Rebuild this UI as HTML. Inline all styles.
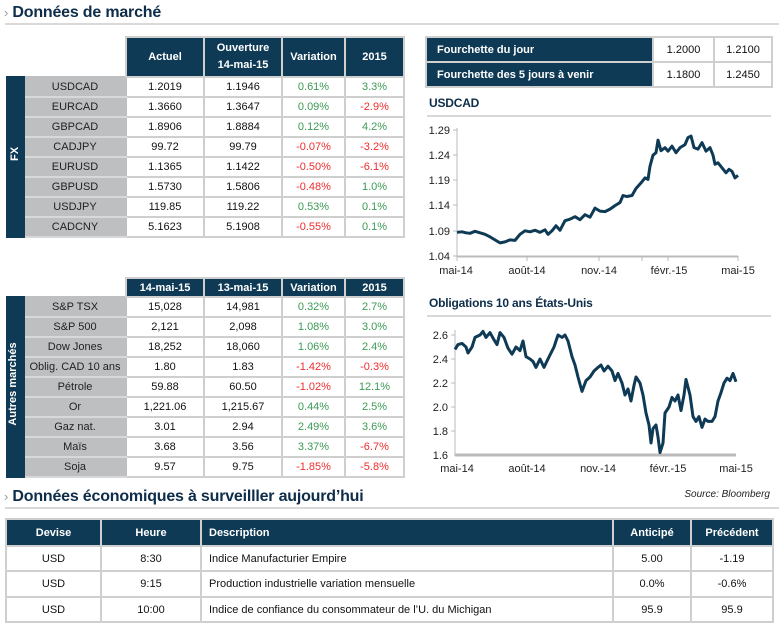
<!DOCTYPE html>
<html><head><meta charset="utf-8">
<style>
*{margin:0;padding:0;box-sizing:border-box}
body{width:779px;height:626px;background:#fff;position:relative;font-family:"Liberation Sans",sans-serif;color:#111;overflow:hidden}
.abs{position:absolute}
.title{font-size:16px;font-weight:bold;color:#0d2d4a;letter-spacing:-0.2px}
.chev{color:#9a9a9a;font-size:13px;font-weight:normal}
.rule{height:2px;background:#d9d9d9}
table{border-collapse:collapse;table-layout:fixed;position:absolute}
td{border:2px solid #cfcfcf;text-align:center;font-size:11px;white-space:nowrap;overflow:hidden;padding:0}
.h{background:#0e3a56;color:#fff;font-weight:bold;border-color:#cfcfcf}
.lab{background:#bebfc1;color:#222;border-color:#bebfc1;border-bottom-color:#d8d8d8}
.strip{background:#0e3a56;border-color:#0e3a56}
.g{color:#3c9a55}.r{color:#ef2d2d}
.blank{border:none;background:#fff}
.vt{color:#fff;font-weight:bold;font-size:11px;transform:rotate(-90deg);white-space:nowrap}
svg text{font-family:"Liberation Sans",sans-serif;font-size:11px;fill:#222}
</style></head><body>

<div class="abs title" style="left:4px;top:4px"><span class="chev">›</span> Données de marché</div>
<div class="abs rule" style="left:5px;top:23px;width:774px"></div>

<!-- FX table -->
<table style="left:6px;top:36px;width:397px">
<colgroup><col style="width:17px"><col style="width:102px"><col style="width:78px"><col style="width:78px"><col style="width:63px"><col style="width:59px"></colgroup>
<tr style="height:40px"><td class="blank"></td><td class="blank"></td><td class="h">Actuel</td><td class="h" style="line-height:17px">Ouverture<br>14-mai-15</td><td class="h">Variation</td><td class="h">2015</td></tr>
<tr style="height:20px"><td class="strip" rowspan="8"></td><td class="lab">USDCAD</td><td>1.2019</td><td>1.1946</td><td class="g">0.61%</td><td class="g">3.3%</td></tr>
<tr style="height:20px"><td class="lab">EURCAD</td><td>1.3660</td><td>1.3647</td><td class="g">0.09%</td><td class="r">-2.9%</td></tr>
<tr style="height:20px"><td class="lab">GBPCAD</td><td>1.8906</td><td>1.8884</td><td class="g">0.12%</td><td class="g">4.2%</td></tr>
<tr style="height:20px"><td class="lab">CADJPY</td><td>99.72</td><td>99.79</td><td class="r">-0.07%</td><td class="r">-3.2%</td></tr>
<tr style="height:20px"><td class="lab">EURUSD</td><td>1.1365</td><td>1.1422</td><td class="r">-0.50%</td><td class="r">-6.1%</td></tr>
<tr style="height:20px"><td class="lab">GBPUSD</td><td>1.5730</td><td>1.5806</td><td class="r">-0.48%</td><td class="g">1.0%</td></tr>
<tr style="height:20px"><td class="lab">USDJPY</td><td>119.85</td><td>119.22</td><td class="g">0.53%</td><td class="g">0.1%</td></tr>
<tr style="height:20px"><td class="lab">CADCNY</td><td>5.1623</td><td>5.1908</td><td class="r">-0.55%</td><td class="g">0.1%</td></tr>
</table>
<div class="abs vt" style="left:5px;top:148px;width:20px;text-align:center">FX</div>

<!-- Other markets -->
<table style="left:6px;top:277px;width:397px">
<colgroup><col style="width:17px"><col style="width:102px"><col style="width:78px"><col style="width:78px"><col style="width:63px"><col style="width:59px"></colgroup>
<tr style="height:19px"><td class="blank"></td><td class="blank"></td><td class="h">14-mai-15</td><td class="h">13-mai-15</td><td class="h">Variation</td><td class="h">2015</td></tr>
<tr style="height:20px"><td class="strip" rowspan="9"></td><td class="lab">S&amp;P TSX</td><td>15,028</td><td>14,981</td><td class="g">0.32%</td><td class="g">2.7%</td></tr>
<tr style="height:20px"><td class="lab">S&amp;P 500</td><td>2,121</td><td>2,098</td><td class="g">1.08%</td><td class="g">3.0%</td></tr>
<tr style="height:20px"><td class="lab">Dow Jones</td><td>18,252</td><td>18,060</td><td class="g">1.06%</td><td class="g">2.4%</td></tr>
<tr style="height:20px"><td class="lab">Oblig. CAD 10 ans</td><td>1.80</td><td>1.83</td><td class="r">-1.42%</td><td class="r">-0.3%</td></tr>
<tr style="height:20px"><td class="lab">Pétrole</td><td>59.88</td><td>60.50</td><td class="r">-1.02%</td><td class="g">12.1%</td></tr>
<tr style="height:20px"><td class="lab">Or</td><td>1,221.06</td><td>1,215.67</td><td class="g">0.44%</td><td class="g">2.5%</td></tr>
<tr style="height:20px"><td class="lab">Gaz nat.</td><td>3.01</td><td>2.94</td><td class="g">2.49%</td><td class="g">3.6%</td></tr>
<tr style="height:20px"><td class="lab">Maïs</td><td>3.68</td><td>3.56</td><td class="g">3.37%</td><td class="r">-6.7%</td></tr>
<tr style="height:20px"><td class="lab">Soja</td><td>9.57</td><td>9.75</td><td class="r">-1.85%</td><td class="r">-5.8%</td></tr>
</table>
<div class="abs vt" style="left:-42px;top:378px;width:110px;text-align:center">Autres marchés</div>

<!-- Range table -->
<table style="left:425px;top:36px;width:346px">
<colgroup><col style="width:227px"><col style="width:61px"><col style="width:58px"></colgroup>
<tr style="height:25px"><td class="h" style="text-align:left;padding-left:10px">Fourchette du jour</td><td>1.2000</td><td>1.2100</td></tr>
<tr style="height:25px"><td class="h" style="text-align:left;padding-left:10px">Fourchette des 5 jours à venir</td><td>1.1800</td><td>1.2450</td></tr>
</table>

<div class="abs title" style="left:429px;top:96px;font-size:12px">USDCAD</div>
<div class="abs rule" style="left:427px;top:115px;width:344px"></div>
<div class="abs title" style="left:429px;top:296px;font-size:12px">Obligations 10 ans États-Unis</div>
<div class="abs rule" style="left:427px;top:315px;width:344px"></div>

<svg class="abs" style="left:0;top:0" width="779" height="626">
<!-- USDCAD axes -->
<g stroke="#bbb" stroke-width="1">
<line x1="457" y1="128" x2="457" y2="257"/>
<line x1="457" y1="256.5" x2="738" y2="256.5" stroke-width="2"/>
<line x1="457" y1="256" x2="457" y2="261"/><line x1="527" y1="256" x2="527" y2="261"/><line x1="599" y1="256" x2="599" y2="261"/><line x1="642" y1="256" x2="642" y2="261"/><line x1="668" y1="256" x2="668" y2="261"/><line x1="738" y1="256" x2="738" y2="261"/>
<line x1="453" y1="130" x2="457" y2="130"/><line x1="453" y1="155" x2="457" y2="155"/><line x1="453" y1="180" x2="457" y2="180"/><line x1="453" y1="205" x2="457" y2="205"/><line x1="453" y1="231" x2="457" y2="231"/><line x1="453" y1="256" x2="457" y2="256"/>
</g>
<g text-anchor="end">
<text x="450" y="134">1.29</text><text x="450" y="159">1.24</text><text x="450" y="184">1.19</text><text x="450" y="209">1.14</text><text x="450" y="235">1.09</text><text x="450" y="260">1.04</text>
</g>
<g text-anchor="middle">
<text x="456" y="274">mai-14</text><text x="527" y="274">août-14</text><text x="599" y="274">nov.-14</text><text x="669" y="274">févr.-15</text><text x="738" y="274">mai-15</text>
</g>
<g transform="translate(0,780.16) scale(1,-504)">
<polyline fill="none" stroke="#0e3a56" stroke-width="3" vector-effect="non-scaling-stroke" stroke-linejoin="round" points="457,1.087 462,1.088 466,1.086 470,1.085 475,1.089 480,1.086 485,1.083 490,1.078 495,1.072 500,1.066 505,1.068 510,1.072 515,1.071 520,1.083 525,1.090 530,1.088 535,1.091 540,1.087 545,1.092 548,1.083 552,1.090 556,1.100 560,1.091 565,1.110 570,1.113 575,1.118 580,1.112 585,1.122 590,1.117 595,1.135 600,1.129 605,1.128 610,1.133 615,1.140 620,1.146 623,1.160 627,1.158 632,1.160 636,1.174 641,1.185 645,1.195 648,1.192 650,1.218 653,1.240 656,1.245 658,1.270 661,1.249 665,1.255 668,1.248 672,1.258 676,1.245 680,1.255 685,1.261 688,1.275 691,1.278 694,1.255 698,1.252 702,1.265 706,1.248 710,1.255 713,1.240 715,1.222 718,1.225 722,1.215 726,1.205 729,1.212 732,1.208 735,1.195 738,1.200"/>
</g>

<!-- Bonds axes -->
<g stroke="#bbb" stroke-width="1">
<line x1="455" y1="330" x2="455" y2="456"/>
<line x1="455" y1="455" x2="736" y2="455" stroke-width="3"/>
<line x1="451" y1="335" x2="455" y2="335"/><line x1="451" y1="359" x2="455" y2="359"/><line x1="451" y1="383" x2="455" y2="383"/><line x1="451" y1="407" x2="455" y2="407"/><line x1="451" y1="431" x2="455" y2="431"/>
</g>
<g text-anchor="end">
<text x="448" y="339">2.6</text><text x="448" y="363">2.4</text><text x="448" y="387">2.2</text><text x="448" y="411">2.0</text><text x="448" y="435">1.8</text><text x="448" y="459">1.6</text>
</g>
<g text-anchor="middle">
<text x="457" y="472">mai-14</text><text x="527" y="472">août-14</text><text x="598" y="472">nov.-14</text><text x="668" y="472">févr.-15</text><text x="736" y="472">mai-15</text>
</g>
<g transform="translate(0,647) scale(1,-120)">
<polyline fill="none" stroke="#0e3a56" stroke-width="3" vector-effect="non-scaling-stroke" stroke-linejoin="round" points="455,2.48 458,2.52 462,2.53 466,2.50 468,2.45 472,2.50 475,2.58 480,2.60 483,2.63 486,2.58 490,2.62 494,2.56 497,2.52 500,2.62 504,2.58 508,2.49 512,2.44 516,2.50 520,2.47 523,2.55 526,2.42 530,2.40 533,2.38 536,2.33 540,2.40 544,2.33 548,2.40 551,2.45 554,2.50 558,2.60 562,2.58 565,2.60 568,2.55 572,2.42 575,2.35 578,2.25 582,2.13 586,2.22 590,2.25 594,2.30 598,2.33 601,2.35 604,2.30 608,2.34 612,2.30 615,2.22 618,2.28 622,2.20 625,2.10 628,2.15 631,2.05 634,2.18 636,2.25 640,2.20 643,2.10 646,1.95 649,1.85 651,1.70 653,1.82 656,1.85 658,1.75 660,1.62 663,1.70 665,1.95 669,2.00 672,2.08 675,2.05 678,2.10 681,1.97 684,2.10 686,2.23 690,2.10 693,1.92 696,1.88 699,1.92 702,1.83 705,1.90 708,1.88 712,1.88 715,1.92 718,2.05 721,2.12 724,2.20 727,2.24 730,2.22 733,2.28 736,2.21"/>
</g>
<text x="770" y="497" text-anchor="end" font-style="italic" style="font-size:10px">Source: Bloomberg</text>
</svg>

<div class="abs title" style="left:4px;top:488px"><span class="chev">›</span> Données économiques à surveilller aujourd’hui</div>
<div class="abs rule" style="left:5px;top:507px;width:774px"></div>

<table style="left:5px;top:518px;width:767px">
<colgroup><col style="width:95px"><col style="width:100px"><col style="width:412px"><col style="width:78px"><col style="width:82px"></colgroup>
<tr style="height:27px"><td class="h">Devise</td><td class="h">Heure</td><td class="h" style="text-align:left;padding-left:7px">Description</td><td class="h">Anticipé</td><td class="h">Précédent</td></tr>
<tr style="height:25px"><td>USD</td><td>8:30</td><td style="text-align:left;padding-left:7px">Indice Manufacturier Empire</td><td>5.00</td><td>-1.19</td></tr>
<tr style="height:26px"><td>USD</td><td>9:15</td><td style="text-align:left;padding-left:7px">Production industrielle variation mensuelle</td><td>0.0%</td><td>-0.6%</td></tr>
<tr style="height:25px"><td>USD</td><td>10:00</td><td style="text-align:left;padding-left:7px">Indice de confiance du consommateur de l’U. du Michigan</td><td>95.9</td><td>95.9</td></tr>
</table>
</body></html>
